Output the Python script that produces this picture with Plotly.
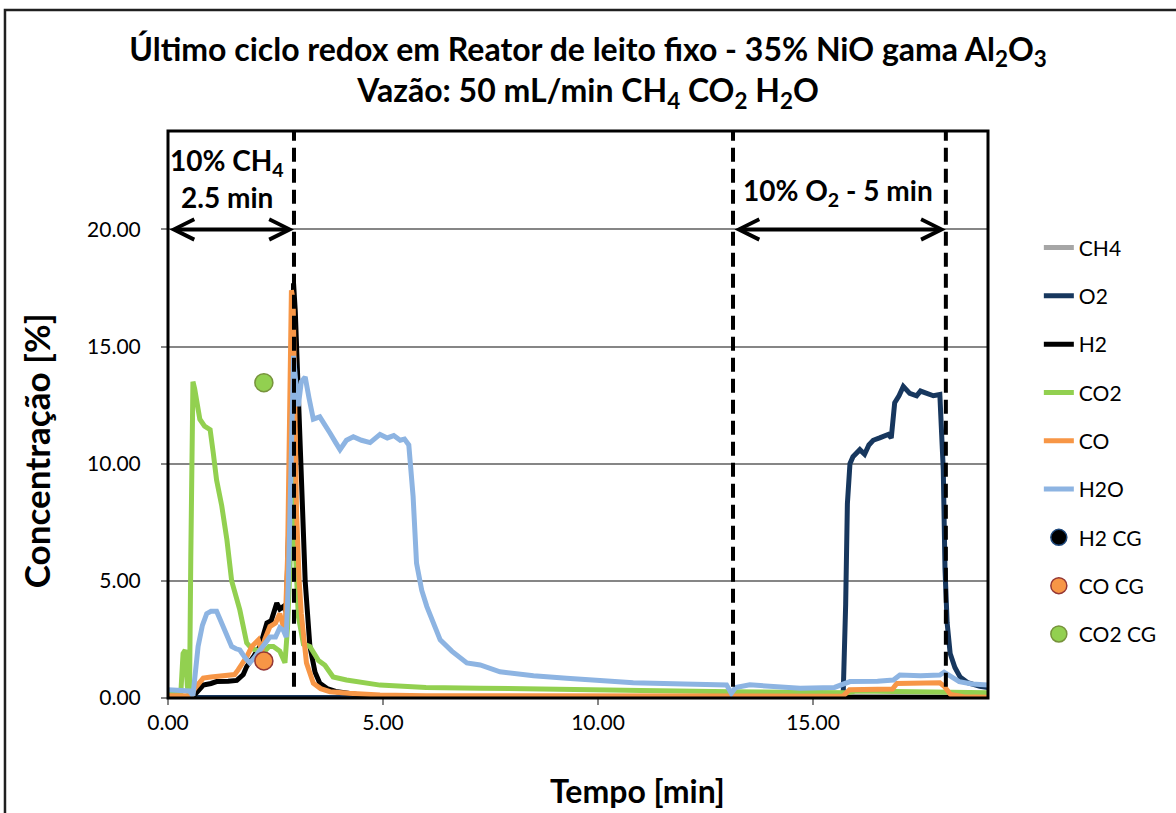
import plotly.graph_objects as go

# ---------------- data ----------------
t_ch4 = [0, 19.07]
ch4 = [0.0, 0.0]

t_o2 = [0, 15.70, 15.76, 15.80, 15.86, 15.93, 16.09, 16.2, 16.3, 16.4, 16.55, 16.75, 16.82, 16.9, 17.0,
        17.1, 17.25, 17.41, 17.5, 17.64, 17.8, 17.95, 18.03, 18.07, 18.12, 18.19, 18.3, 18.42, 18.6, 18.88, 19.07]
o2 = [0.02, 0.02, 4.0, 8.3, 10.0, 10.3, 10.6, 10.4, 10.8, 11.0, 11.1, 11.25, 11.1, 12.6, 12.9,
      13.3, 13.0, 12.9, 13.1, 13.0, 12.9, 12.95, 9.75, 5.5, 3.2, 1.9, 1.3, 0.9, 0.65, 0.5, 0.45]

t_h2 = [0, 0.55, 0.65, 0.82, 1.0, 1.13, 1.4, 1.6, 1.75, 1.83, 2.0, 2.14, 2.3, 2.4, 2.53, 2.6, 2.68, 2.75,
        2.82, 2.87, 2.92, 2.96, 3.02, 3.07, 3.13, 3.19, 3.3, 3.42, 3.53, 3.7, 3.9, 4.15, 4.6, 5.5, 19.07]
h2 = [0.0, 0.0, 0.2, 0.55, 0.62, 0.7, 0.72, 0.75, 1.0, 1.34, 1.8, 2.2, 3.2, 3.3, 4.05, 3.8, 3.9, 3.7,
      8.0, 14.5, 17.7, 16.5, 13.5, 10.7, 7.5, 5.0, 2.2, 1.1, 0.63, 0.4, 0.28, 0.2, 0.1, 0.05, 0.03]

t_co2 = [0, 0.3, 0.35, 0.4, 0.45, 0.5, 0.53, 0.58, 0.62, 0.74, 0.85, 0.98, 1.05, 1.13, 1.25, 1.37, 1.48,
         1.58, 1.67, 1.83, 1.95, 2.06, 2.2, 2.35, 2.45, 2.6, 2.72, 2.78, 2.85, 2.92, 2.97, 3.03, 3.15, 3.3,
         3.5, 3.65, 3.84, 4.15, 4.93, 6.0, 7.26, 9.0, 11.0, 13.1, 15.0, 15.8, 16.0, 18.0, 18.2, 19.07]
co2 = [0.25, 0.27, 1.9, 2.05, 0.5, 0.1, 6.0, 13.5, 13.2, 11.9, 11.6, 11.45, 10.5, 9.3, 8.2, 6.75, 5.0,
       4.3, 3.76, 2.35, 2.1, 2.05, 1.9, 2.2, 2.2, 2.0, 1.5, 3.0, 7.0, 9.5, 6.0, 3.5, 2.3, 2.2,
       1.6, 1.4, 0.9, 0.77, 0.55, 0.45, 0.42, 0.35, 0.32, 0.27, 0.22, 0.22, 0.3, 0.3, 0.25, 0.22]

t_co = [0, 0.55, 0.62, 0.82, 1.0, 1.37, 1.55, 1.63, 1.83, 1.95, 2.1, 2.18, 2.25, 2.37, 2.5, 2.6, 2.72,
        2.78, 2.83, 2.87, 2.91, 2.95, 2.99, 3.05, 3.1, 3.22, 3.38, 3.55, 3.77, 4.2, 4.93, 6.0, 10.0,
        15.7, 15.85, 16.85, 16.95, 17.95, 18.05, 18.2, 18.5, 19.07]
co = [0.1, 0.1, 0.4, 0.85, 0.9, 0.98, 1.0, 1.2, 1.76, 2.2, 2.48, 2.0, 2.5, 3.05, 3.2, 3.6, 2.8,
      6.0, 12.5, 17.4, 17.0, 12.0, 7.9, 5.0, 3.6, 1.5, 0.63, 0.4, 0.27, 0.2, 0.13, 0.1, 0.08,
      0.08, 0.35, 0.38, 0.62, 0.65, 0.5, 0.15, 0.05, 0.03]

t_h2o = [0, 0.35, 0.5, 0.58, 0.64, 0.7, 0.8, 0.9, 1.0, 1.13, 1.2, 1.28, 1.38, 1.48, 1.58, 1.67, 1.8, 1.9,
         2.0, 2.14, 2.25, 2.37, 2.5, 2.6, 2.68, 2.75, 2.8, 2.87, 2.92, 2.97, 3.03, 3.1, 3.19, 3.28, 3.38,
         3.53, 3.65, 3.77, 3.9, 4.0, 4.15, 4.31, 4.5, 4.7, 4.93, 5.1, 5.25, 5.4, 5.5, 5.6, 5.7, 5.78,
         5.9, 6.02, 6.33, 6.6, 6.95, 7.26, 7.72, 8.5, 9.27, 10.0, 10.82, 12.0, 12.99, 13.1, 13.2, 13.53,
         14.0, 14.7, 15.5, 15.86, 16.5, 16.87, 17.02, 17.5, 17.95, 18.05, 18.4, 18.7, 19.07]
h2o = [0.35, 0.35, 0.3, 0.1, 1.0, 2.2, 3.1, 3.6, 3.7, 3.7, 3.4, 3.05, 2.6, 2.2, 2.1, 2.05, 1.7, 1.5,
       1.7, 2.05, 2.3, 2.6, 2.6, 3.0, 2.9, 2.6, 5.0, 10.0, 14.6, 13.5, 12.45, 13.5, 13.7, 12.8, 11.9,
       12.0, 11.6, 11.3, 10.9, 10.6, 11.0, 11.15, 11.0, 10.9, 11.25, 11.1, 11.2, 11.0, 11.05, 10.8, 8.6, 5.75,
       4.6, 3.9, 2.48, 2.0, 1.5, 1.41, 1.12, 0.95, 0.84, 0.75, 0.65, 0.6, 0.56, 0.2, 0.45, 0.56,
       0.5, 0.42, 0.45, 0.7, 0.72, 0.77, 0.98, 0.95, 0.98, 1.1, 0.7, 0.6, 0.56]

# GC (CG) point measurements
t_h2_cg = [None]
h2_cg = [None]
t_co_cg = [2.23]
co_cg = [1.58]
t_co2_cg = [2.23]
co2_cg = [13.46]

# phase boundaries (min) and arrow level
phase_lines = [2.93, 13.14, 18.09]
ch4_window = [0.0, 2.93]
o2_window = [13.14, 18.09]
arrow_level = 20.0

x_ticks = [0, 5, 10, 15]
y_ticks = [0, 5, 10, 15, 20]

# ---------------- figure ----------------
FONT = "Lato"
fig = go.Figure()

lines = [
    ("CH4", t_ch4, ch4, "#a6a6a6"),
    ("O2", t_o2, o2, "#17375e"),
    ("H2", t_h2, h2, "#000000"),
    ("CO2", t_co2, co2, "#92d050"),
    ("CO", t_co, co, "#f79646"),
    ("H2O", t_h2o, h2o, "#8db4e2"),
]
for name, tx, vy, col in lines:
    fig.add_trace(go.Scatter(x=tx, y=vy, mode="lines", name=name, legendgroup=name,
                             line=dict(color=col, width=5)))

points = [
    ("H2 CG", t_h2_cg, h2_cg, "#000000", "#1f497d"),
    ("CO CG", t_co_cg, co_cg, "#f79646", "#953735"),
    ("CO2 CG", t_co2_cg, co2_cg, "#92d050", "#77933c"),
]
for name, tx, vy, fill, edge in points:
    fig.add_trace(go.Scatter(x=tx, y=vy, mode="markers", name=name, legendgroup=name,
                             marker=dict(size=18, color=fill, line=dict(color=edge, width=1.5))))

shapes = []
for xv in phase_lines:
    shapes.append(dict(type="line", xref="x", yref="paper", x0=xv, x1=xv, y0=0.02, y1=1,
                       line=dict(color="black", width=4, dash="14px,7px")))
# plot-area border
shapes.append(dict(type="rect", xref="paper", yref="paper", x0=0, x1=1, y0=0, y1=1,
                   line=dict(color="black", width=3), layer="above"))
# outer chart border
shapes.append(dict(type="rect", xref="paper", yref="paper", x0=-0.1988, x1=1.25, y0=-0.3, y1=1.2135,
                   line=dict(color="#202020", width=2.5), layer="above"))

annotations = []
for win in (ch4_window, o2_window):
    annotations.append(dict(x=win[1], y=arrow_level, ax=win[0], ay=arrow_level,
                            xref="x", yref="y", axref="x", ayref="y", text="",
                            showarrow=True, arrowside="end+start", arrowhead=5, startarrowhead=5,
                            arrowwidth=4, arrowsize=1, startarrowsize=1, arrowcolor="black"))
annfont = dict(family=FONT, size=28, color="black")
annotations.append(dict(x=1.37, y=22.86, xref="x", yref="y", text="<b>10% CH<sub>4</sub></b>",
                        showarrow=False, font=annfont))
annotations.append(dict(x=1.37, y=21.4, xref="x", yref="y", text="<b>2.5 min</b>",
                        showarrow=False, font=annfont))
annotations.append(dict(x=15.58, y=21.58, xref="x", yref="y", text="<b>10% O<sub>2</sub> - 5 min</b>",
                        showarrow=False, font=annfont))
# axis titles
annotations.append(dict(x=-0.161, y=0.437, xref="paper", yref="paper", text="<b>Concentração [%]</b>",
                        textangle=-90, showarrow=False, xanchor="center", yanchor="middle",
                        font=dict(family=FONT, size=35, color="black")))
annotations.append(dict(x=0.572, y=-0.164, xref="paper", yref="paper", text="<b>Tempo [min]</b>",
                        showarrow=False, xanchor="center", yanchor="middle",
                        font=dict(family=FONT, size=32, color="black")))

fig.update_layout(
    width=1176, height=813,
    margin=dict(l=168, r=188, t=131, b=115),
    paper_bgcolor="white", plot_bgcolor="white",
    font=dict(family=FONT, color="black"),
    title=dict(text="<b>Último ciclo redox em Reator de leito fixo - 35% NiO gama Al<sub>2</sub>O<sub>3</sub></b><br>"
                    "<b>Vazão: 50 mL/min CH<sub>4</sub> CO<sub>2</sub> H<sub>2</sub>O</b>",
               x=0.5, xanchor="center", y=0.9255, yanchor="top",
               font=dict(family=FONT, size=32, color="black")),
    xaxis=dict(range=[0, 19.07], tickvals=x_ticks, ticktext=[f"{v:.2f}" for v in x_ticks],
               showgrid=False, zeroline=False, showline=False,
               ticks="outside", ticklen=6, tickcolor="#868686", tickwidth=1.5,
               tickfont=dict(family=FONT, size=21, color="black")),
    yaxis=dict(range=[0, 24.2], tickvals=y_ticks, ticktext=[f"{v:.2f}" for v in y_ticks],
               showgrid=True, gridcolor="#868686", gridwidth=2, zeroline=False, showline=False,
               ticks="outside", ticklen=6, tickcolor="#868686", tickwidth=1.5,
               tickfont=dict(family=FONT, size=21, color="black"), ticklabelstandoff=16),
    legend=dict(x=1.062, xanchor="left", y=0.83, yanchor="top",
                font=dict(family=FONT, size=21, color="black"),
                tracegroupgap=18, traceorder="grouped", bgcolor="rgba(0,0,0,0)", itemwidth=30),
    shapes=shapes,
    annotations=annotations,
)

fig.write_html("out.html", config={"displayModeBar": False},
               post_script="document.body.style.margin='0';")
